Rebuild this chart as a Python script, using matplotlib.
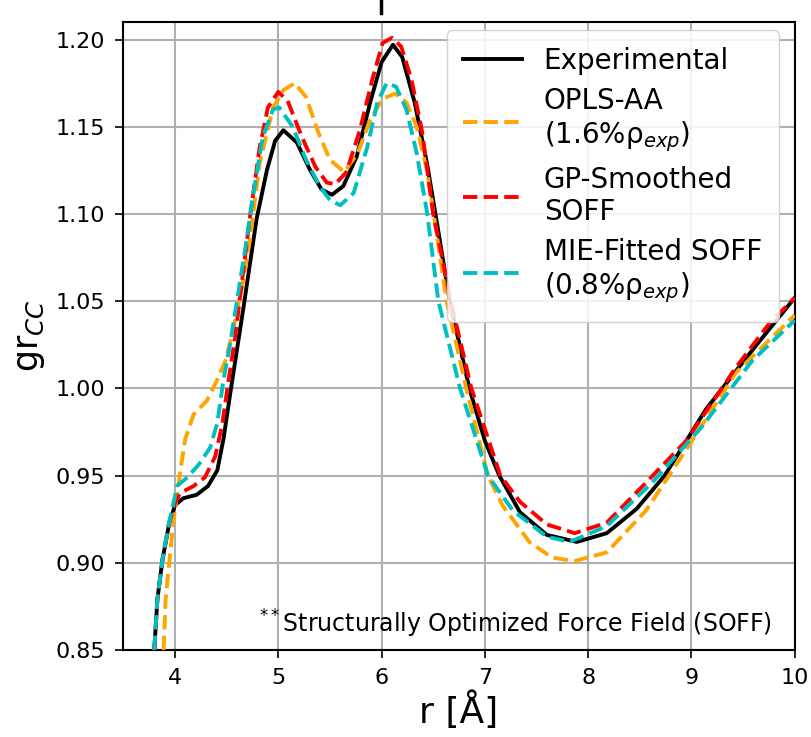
"""Radial distribution function g(r) for C-C pairs: experiment vs. force fields."""

import matplotlib
matplotlib.use("Agg")
import matplotlib.pyplot as plt
from matplotlib.lines import Line2D

# values
r_exp = [3.80, 3.83, 3.88, 3.94, 4.00, 4.08, 4.21, 4.32, 4.41, 4.47, 4.53, 4.60,
         4.66, 4.79, 4.89, 4.97, 5.05, 5.18, 5.31, 5.42, 5.52, 5.63, 5.76, 5.89,
         6.00, 6.11, 6.20, 6.32, 6.44, 6.55, 6.66, 6.85, 7.00, 7.14, 7.34, 7.60,
         7.89, 8.18, 8.47, 8.74, 9.14, 9.59, 10.0]
g_exp = [0.850, 0.879, 0.902, 0.921, 0.933, 0.937, 0.939, 0.944, 0.953, 0.971,
         0.995, 1.022, 1.045, 1.097, 1.125, 1.142, 1.148, 1.141, 1.125, 1.114,
         1.111, 1.116, 1.133, 1.164, 1.187, 1.197, 1.190, 1.164, 1.129, 1.090,
         1.050, 1.000, 0.970, 0.950, 0.929, 0.916, 0.912, 0.917, 0.931, 0.950,
         0.988, 1.022, 1.052]

r_opls = [3.89, 3.91, 3.96, 3.98, 4.02, 4.05, 4.10, 4.18, 4.31, 4.41, 4.49, 4.55,
          4.65, 4.73, 4.82, 4.95, 5.05, 5.16, 5.27, 5.38, 5.50, 5.64, 5.77, 5.89,
          6.01, 6.13, 6.24, 6.34, 6.44, 6.53, 6.63, 6.82, 7.03, 7.17, 7.43, 7.65,
          7.87, 8.18, 8.56, 8.95, 9.43, 10.0]
g_opls = [0.850, 0.879, 0.909, 0.922, 0.938, 0.952, 0.971, 0.985, 0.993, 1.005,
          1.016, 1.030, 1.058, 1.087, 1.129, 1.161, 1.171, 1.175, 1.167, 1.148,
          1.131, 1.124, 1.135, 1.154, 1.166, 1.169, 1.164, 1.150, 1.125, 1.090,
          1.050, 1.000, 0.950, 0.933, 0.912, 0.903, 0.901, 0.906, 0.930, 0.965,
          1.009, 1.042]

r_gp = [3.80, 3.83, 3.88, 3.94, 4.00, 4.05, 4.18, 4.29, 4.39, 4.46, 4.52, 4.58,
        4.65, 4.73, 4.82, 4.90, 5.00, 5.09, 5.23, 5.36, 5.47, 5.55, 5.66, 5.79,
        5.91, 6.01, 6.10, 6.19, 6.29, 6.39, 6.50, 6.67, 6.87, 7.15, 7.34, 7.60,
        7.87, 8.18, 8.56, 8.95, 9.43, 9.75, 10.0]
g_gp = [0.850, 0.879, 0.902, 0.922, 0.934, 0.940, 0.944, 0.949, 0.961, 0.980,
        1.005, 1.028, 1.062, 1.100, 1.138, 1.161, 1.170, 1.165, 1.144, 1.127,
        1.118, 1.117, 1.124, 1.148, 1.177, 1.198, 1.201, 1.196, 1.177, 1.148,
        1.100, 1.050, 1.000, 0.950, 0.935, 0.922, 0.917, 0.923, 0.946, 0.970,
        1.012, 1.037, 1.052]

r_mie = [3.80, 3.83, 3.88, 3.94, 4.00, 4.02, 4.12, 4.24, 4.34, 4.41, 4.47, 4.53,
         4.60, 4.68, 4.76, 4.85, 4.95, 5.01, 5.14, 5.27, 5.40, 5.50, 5.60, 5.73,
         5.86, 5.96, 6.05, 6.14, 6.24, 6.34, 6.44, 6.55, 6.76, 7.03, 7.27, 7.60,
         7.82, 8.18, 8.62, 9.10, 9.59, 10.0]
g_mie = [0.850, 0.879, 0.902, 0.922, 0.938, 0.944, 0.949, 0.957, 0.966, 0.980,
         1.005, 1.024, 1.050, 1.080, 1.112, 1.144, 1.160, 1.161, 1.150, 1.131,
         1.116, 1.108, 1.105, 1.112, 1.138, 1.164, 1.175, 1.173, 1.160, 1.135,
         1.101, 1.050, 1.000, 0.950, 0.930, 0.915, 0.912, 0.921, 0.946, 0.978,
         1.016, 1.039]

fig = plt.figure(figsize=(8.11, 7.37), dpi=100)
ax = fig.add_axes([0.152, 0.118, 0.828, 0.852])

lw = 2.8
style = dict(lw=lw, zorder=3, solid_joinstyle="round", dash_joinstyle="round")
ax.plot(r_exp, g_exp, color="k", label="Experimental", **style)
ax.plot(r_opls, g_opls, color="orange", ls="--",
        label="OPLS-AA\n(1.6%ρ$_{exp}$)", **style)
ax.plot(r_gp, g_gp, color="r", ls="--", label="GP-Smoothed\nSOFF", **style)
ax.plot(r_mie, g_mie, color="c", ls="--",
        label="MIE-Fitted SOFF\n(0.8%ρ$_{exp}$)", **style)

ax.set_xlim(3.5, 10)
ax.set_ylim(0.85, 1.21)
ax.set_xticks([4, 5, 6, 7, 8, 9, 10])
ax.set_yticks([0.85, 0.90, 0.95, 1.00, 1.05, 1.10, 1.15, 1.20])
ax.tick_params(labelsize=16, length=6, width=1.2, pad=7)
ax.grid(True, color="#b0b0b0", lw=1.5)
for sp in ax.spines.values():
    sp.set_linewidth(1.5)

ax.set_xlabel("r [Å]", fontsize=26, labelpad=2)
ax.set_ylabel("gr$_{CC}$", fontsize=25, labelpad=6)

ax.legend(loc="upper right", bbox_to_anchor=(0.976, 0.987), borderaxespad=0,
          fontsize=20, handlelength=2.1, labelspacing=0.42, borderpad=0.6,
          framealpha=0.85)

ax.text(0.966, 0.027, "$^{**}$Structurally Optimized Force Field (SOFF)",
        transform=ax.transAxes, ha="right", va="baseline", fontsize=17)

# stray tick mark above the plot, as in the original image
fig.add_artist(Line2D([0.470, 0.470], [0.982, 1.0], color="k", lw=2.5))

fig.savefig("out.png", dpi=100)
plt.close(fig)
